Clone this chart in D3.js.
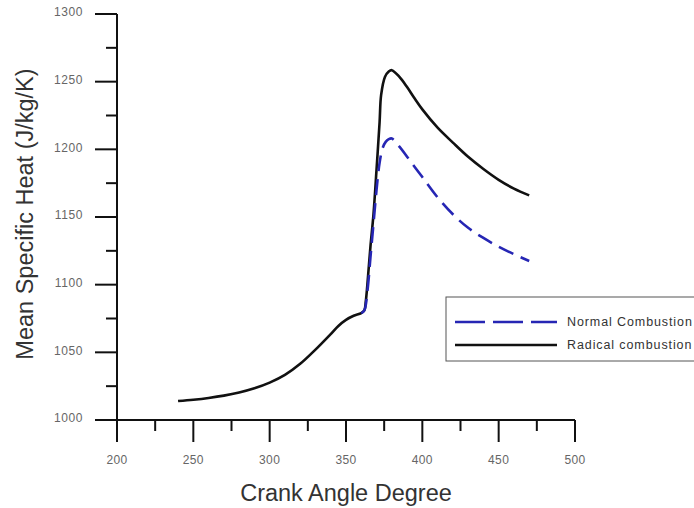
<!DOCTYPE html>
<html><head><meta charset="utf-8">
<script src="https://cdn.jsdelivr.net/npm/d3@7"></script>
<style>body{margin:0;background:#fff;}svg{display:block;}</style>
</head><body>
<svg id="chart" width="694" height="508"></svg>
<script>
// Data
const radicalAngle = [240,250,260,270,280,290,300,310,320,330,340,345,350,355,360,362,363,364,366,368,370,372,373,375.5,378,380,385,390,395,400,410,420,430,440,450,460,470];
const radicalCp    = [1014,1015,1016.3,1018,1020.3,1023.4,1027.6,1033.3,1041.5,1052,1063.5,1069.5,1074,1077,1079,1081,1088,1100,1128,1152,1185,1220,1240,1253.5,1257.5,1258.5,1253.5,1246,1237.5,1229.5,1216,1205,1194.5,1185.5,1177.5,1171,1166];
const normalAngle  = [360,362,364,366,368,370,372,374,376,378,380,385,390,395,400,410,420,430,440,450,460,470];
const normalCp     = [1079,1081,1095,1120,1145,1170,1190,1201,1205.5,1207.5,1208,1202,1194.5,1187,1179.5,1164.5,1152,1142,1134.5,1128,1122.5,1117.5];
const xTicks = [200,250,300,350,400,450,500];
const yTicks = [1000,1050,1100,1150,1200,1250,1300];
const seriesNames = ["Normal Combustion","Radical combustion"];

const svg = d3.select("#chart");
const x = d3.scaleLinear().domain([200,500]).range([117,575]);
const y = d3.scaleLinear().domain([1000,1300]).range([420,14]);

const axisColor = "#111";
const labelColor = "#666";
const font = "Liberation Sans, Arial, sans-serif";

// X axis
const gx = svg.append("g").attr("transform","translate(0,420)");
gx.append("line").attr("x1",x(200)).attr("x2",x(500)).attr("stroke",axisColor).attr("stroke-width",2);
gx.selectAll(".maj").data(xTicks).join("line")
  .attr("x1",d=>x(d)).attr("x2",d=>x(d)).attr("y1",0).attr("y2",22)
  .attr("stroke",axisColor).attr("stroke-width",2);
gx.selectAll(".min").data(d3.range(225,500,50)).join("line")
  .attr("x1",d=>x(d)).attr("x2",d=>x(d)).attr("y1",0).attr("y2",11)
  .attr("stroke",axisColor).attr("stroke-width",2);
gx.selectAll("text").data(xTicks).join("text")
  .attr("x",d=>x(d)).attr("y",44).attr("text-anchor","middle")
  .attr("font-family",font).attr("font-size",12).attr("letter-spacing",0.4).attr("fill",labelColor)
  .text(d=>d);

// Y axis
const gy = svg.append("g").attr("transform","translate(117,0)");
gy.append("line").attr("y1",y(1300)).attr("y2",442).attr("stroke",axisColor).attr("stroke-width",2);
gy.selectAll(".maj").data(yTicks).join("line")
  .attr("y1",d=>y(d)).attr("y2",d=>y(d)).attr("x1",0).attr("x2",-22)
  .attr("stroke",axisColor).attr("stroke-width",2);
gy.selectAll(".min").data(d3.range(1025,1300,50)).join("line")
  .attr("y1",d=>y(d)).attr("y2",d=>y(d)).attr("x1",0).attr("x2",-11)
  .attr("stroke",axisColor).attr("stroke-width",2);
gy.selectAll("text").data(yTicks).join("text")
  .attr("x",-34).attr("y",d=>y(d)-2).attr("dy","0.35em").attr("text-anchor","end")
  .attr("font-family",font).attr("font-size",12).attr("letter-spacing",0.6).attr("fill",labelColor)
  .text(d=>d);

// Titles
svg.append("text").attr("x",346).attr("y",501).attr("text-anchor","middle")
  .attr("font-family",font).attr("font-size",23.5).attr("fill","#333")
  .text("Crank Angle Degree");
svg.append("text").attr("transform","translate(33,214) rotate(-90)").attr("text-anchor","middle")
  .attr("font-family",font).attr("font-size",23.5).attr("fill","#333")
  .text("Mean Specific Heat (J/kg/K)");

// Lines
const line = d3.line().x(d=>x(d[0])).y(d=>y(d[1])).curve(d3.curveCatmullRom.alpha(0.5));
svg.append("path").datum(radicalAngle.map((a,i)=>[a,radicalCp[i]]))
  .attr("d",line).attr("fill","none").attr("stroke","#111").attr("stroke-width",2.6);
svg.append("path").datum(normalAngle.map((a,i)=>[a,normalCp[i]]))
  .attr("d",line).attr("fill","none").attr("stroke","#2626b4").attr("stroke-width",2.6)
  .attr("stroke-dasharray","16,8");

// Legend
const lg = svg.append("g");
lg.append("rect").attr("x",446).attr("y",297).attr("width",260).attr("height",64)
  .attr("fill","#fff").attr("stroke","#555").attr("stroke-width",1);
lg.append("line").attr("x1",455).attr("x2",557).attr("y1",322).attr("y2",322)
  .attr("stroke","#2626b4").attr("stroke-width",2.6).attr("stroke-dasharray","30,8");
lg.append("line").attr("x1",455).attr("x2",557).attr("y1",345).attr("y2",345)
  .attr("stroke","#111").attr("stroke-width",2.6);
lg.selectAll("text").data(seriesNames).join("text")
  .attr("x",567).attr("y",(d,i)=>322+i*23).attr("dy","0.35em")
  .attr("font-family",font).attr("font-size",12.5).attr("letter-spacing",0.9).attr("fill","#333")
  .text(d=>d);
</script>
</body></html>
